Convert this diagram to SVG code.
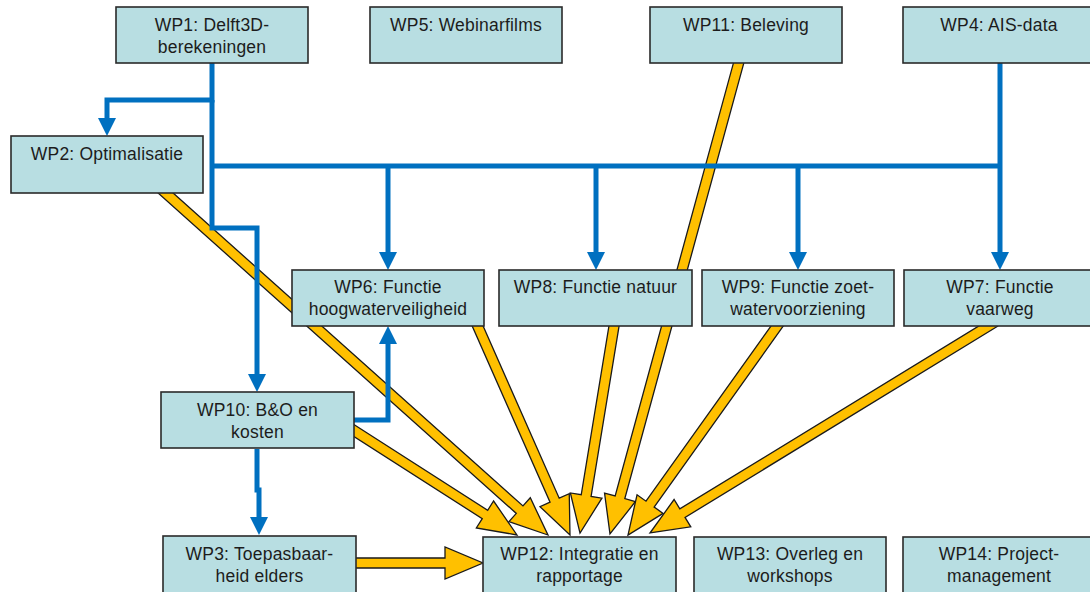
<svg xmlns="http://www.w3.org/2000/svg" width="1090" height="592" viewBox="0 0 1090 592">
<style>
.box{fill:#B8DEE2;stroke:#2a2a2a;stroke-width:1.6}
.t{font-family:"Liberation Sans",Arial,sans-serif;font-size:17.5px;letter-spacing:0.2px;fill:#1c1c1c;text-anchor:middle}
.ya{fill:#FFC000;stroke:#1a1a1a;stroke-width:1.3;stroke-linejoin:miter}
.bl{fill:none;stroke:#0070C0;stroke-width:5;stroke-linejoin:miter}
.bla{fill:none;stroke:#0070C0;stroke-width:5;stroke-linejoin:miter;marker-end:url(#bh)}
</style>
<defs>
<marker id="bh" viewBox="0 0 18 18" refX="8" refY="9" markerWidth="18" markerHeight="18" markerUnits="userSpaceOnUse" orient="auto">
<path d="M0,0 L18,9 L0,18 Z" fill="#0070C0"/>
</marker>
</defs>
<rect width="1090" height="592" fill="#ffffff"/>
<g id="connectors">
<g id="yellow">
<path class="ya" transform="translate(350,428) rotate(32.65)" d="M0,-5 H160.3 V-16 L198.3,0 L160.3,16 V5 H0 Z"/>
<path class="ya" transform="translate(160,188) rotate(41.81)" d="M0,-5 H482.5 V-16 L520.5,0 L482.5,16 V5 H0 Z"/>
<path class="ya" transform="translate(475,320) rotate(66.16)" d="M0,-5 H197 V-16 L235,0 L197,16 V5 H0 Z"/>
<path class="ya" transform="translate(615,320) rotate(99.33)" d="M0,-5 H177.9 V-16 L215.9,0 L177.9,16 V5 H0 Z"/>
<path class="ya" transform="translate(740,58) rotate(105.28)" d="M0,-5 H455.4 V-16 L493.4,0 L455.4,16 V5 H0 Z"/>
<path class="ya" transform="translate(780,322) rotate(125.51)" d="M0,-5 H223.7 V-16 L261.7,0 L223.7,16 V5 H0 Z"/>
<path class="ya" transform="translate(995,322) rotate(148.55)" d="M0,-5 H366.4 V-16 L404.4,0 L366.4,16 V5 H0 Z"/>
<path class="ya" transform="translate(352,563)" d="M0,-5 H93 V-16 L131,0 L93,16 V5 H0 Z"/>
</g>
<g id="blue">
<path class="bla" d="M212,63 V100 H107 V126"/>
<path class="bla" d="M212,100 V228 H257 V382"/>
<path class="bl" d="M212,166 H1002"/>
<path class="bla" d="M1000,63 V260"/>
<path class="bla" d="M388,166 V260"/>
<path class="bla" d="M596,166 V260"/>
<path class="bla" d="M798,166 V260"/>
<path class="bla" d="M354,420 H388 V336"/>
<path class="bla" d="M257,449 V490 H259 V525"/>
</g>
</g>
<g id="wp1"><rect class="box" x="116" y="7" width="192" height="56"/><text class="t" x="212" y="31">WP1: Delft3D-</text><text class="t" x="212" y="53">berekeningen</text></g>
<g id="wp5"><rect class="box" x="370" y="7" width="192" height="56"/><text class="t" x="466" y="31">WP5: Webinarfilms</text></g>
<g id="wp11"><rect class="box" x="650" y="7" width="192" height="56"/><text class="t" x="746" y="31">WP11: Beleving</text></g>
<g id="wp4"><rect class="box" x="903" y="7" width="192" height="56"/><text class="t" x="999" y="31">WP4: AIS-data</text></g>
<g id="wp2"><rect class="box" x="11" y="136" width="192" height="57"/><text class="t" x="107" y="160">WP2: Optimalisatie</text></g>
<g id="wp6"><rect class="box" x="292" y="270" width="192" height="56"/><text class="t" x="388" y="293">WP6: Functie</text><text class="t" x="388" y="315">hoogwaterveiligheid</text></g>
<g id="wp8"><rect class="box" x="499" y="270" width="193" height="56"/><text class="t" x="595.5" y="293">WP8: Functie natuur</text></g>
<g id="wp9"><rect class="box" x="702" y="270" width="192" height="56"/><text class="t" x="798" y="293">WP9: Functie zoet-</text><text class="t" x="798" y="315">watervoorziening</text></g>
<g id="wp7"><rect class="box" x="904" y="270" width="192" height="56"/><text class="t" x="1000" y="293">WP7: Functie</text><text class="t" x="1000" y="315">vaarweg</text></g>
<g id="wp10"><rect class="box" x="161" y="392" width="193" height="56"/><text class="t" x="257.5" y="416">WP10: B&amp;O en</text><text class="t" x="257.5" y="438">kosten</text></g>
<g id="wp3"><rect class="box" x="163" y="536" width="193" height="60"/><text class="t" x="259.5" y="560">WP3: Toepasbaar-</text><text class="t" x="259.5" y="582">heid elders</text></g>
<g id="wp12"><rect class="box" x="483" y="537" width="193" height="60"/><text class="t" x="579.5" y="560">WP12: Integratie en</text><text class="t" x="579.5" y="582">rapportage</text></g>
<g id="wp13"><rect class="box" x="694" y="537" width="192" height="60"/><text class="t" x="790" y="560">WP13: Overleg en</text><text class="t" x="790" y="582">workshops</text></g>
<g id="wp14"><rect class="box" x="903" y="537" width="192" height="60"/><text class="t" x="999" y="560">WP14: Project-</text><text class="t" x="999" y="582">management</text></g>
</svg>
